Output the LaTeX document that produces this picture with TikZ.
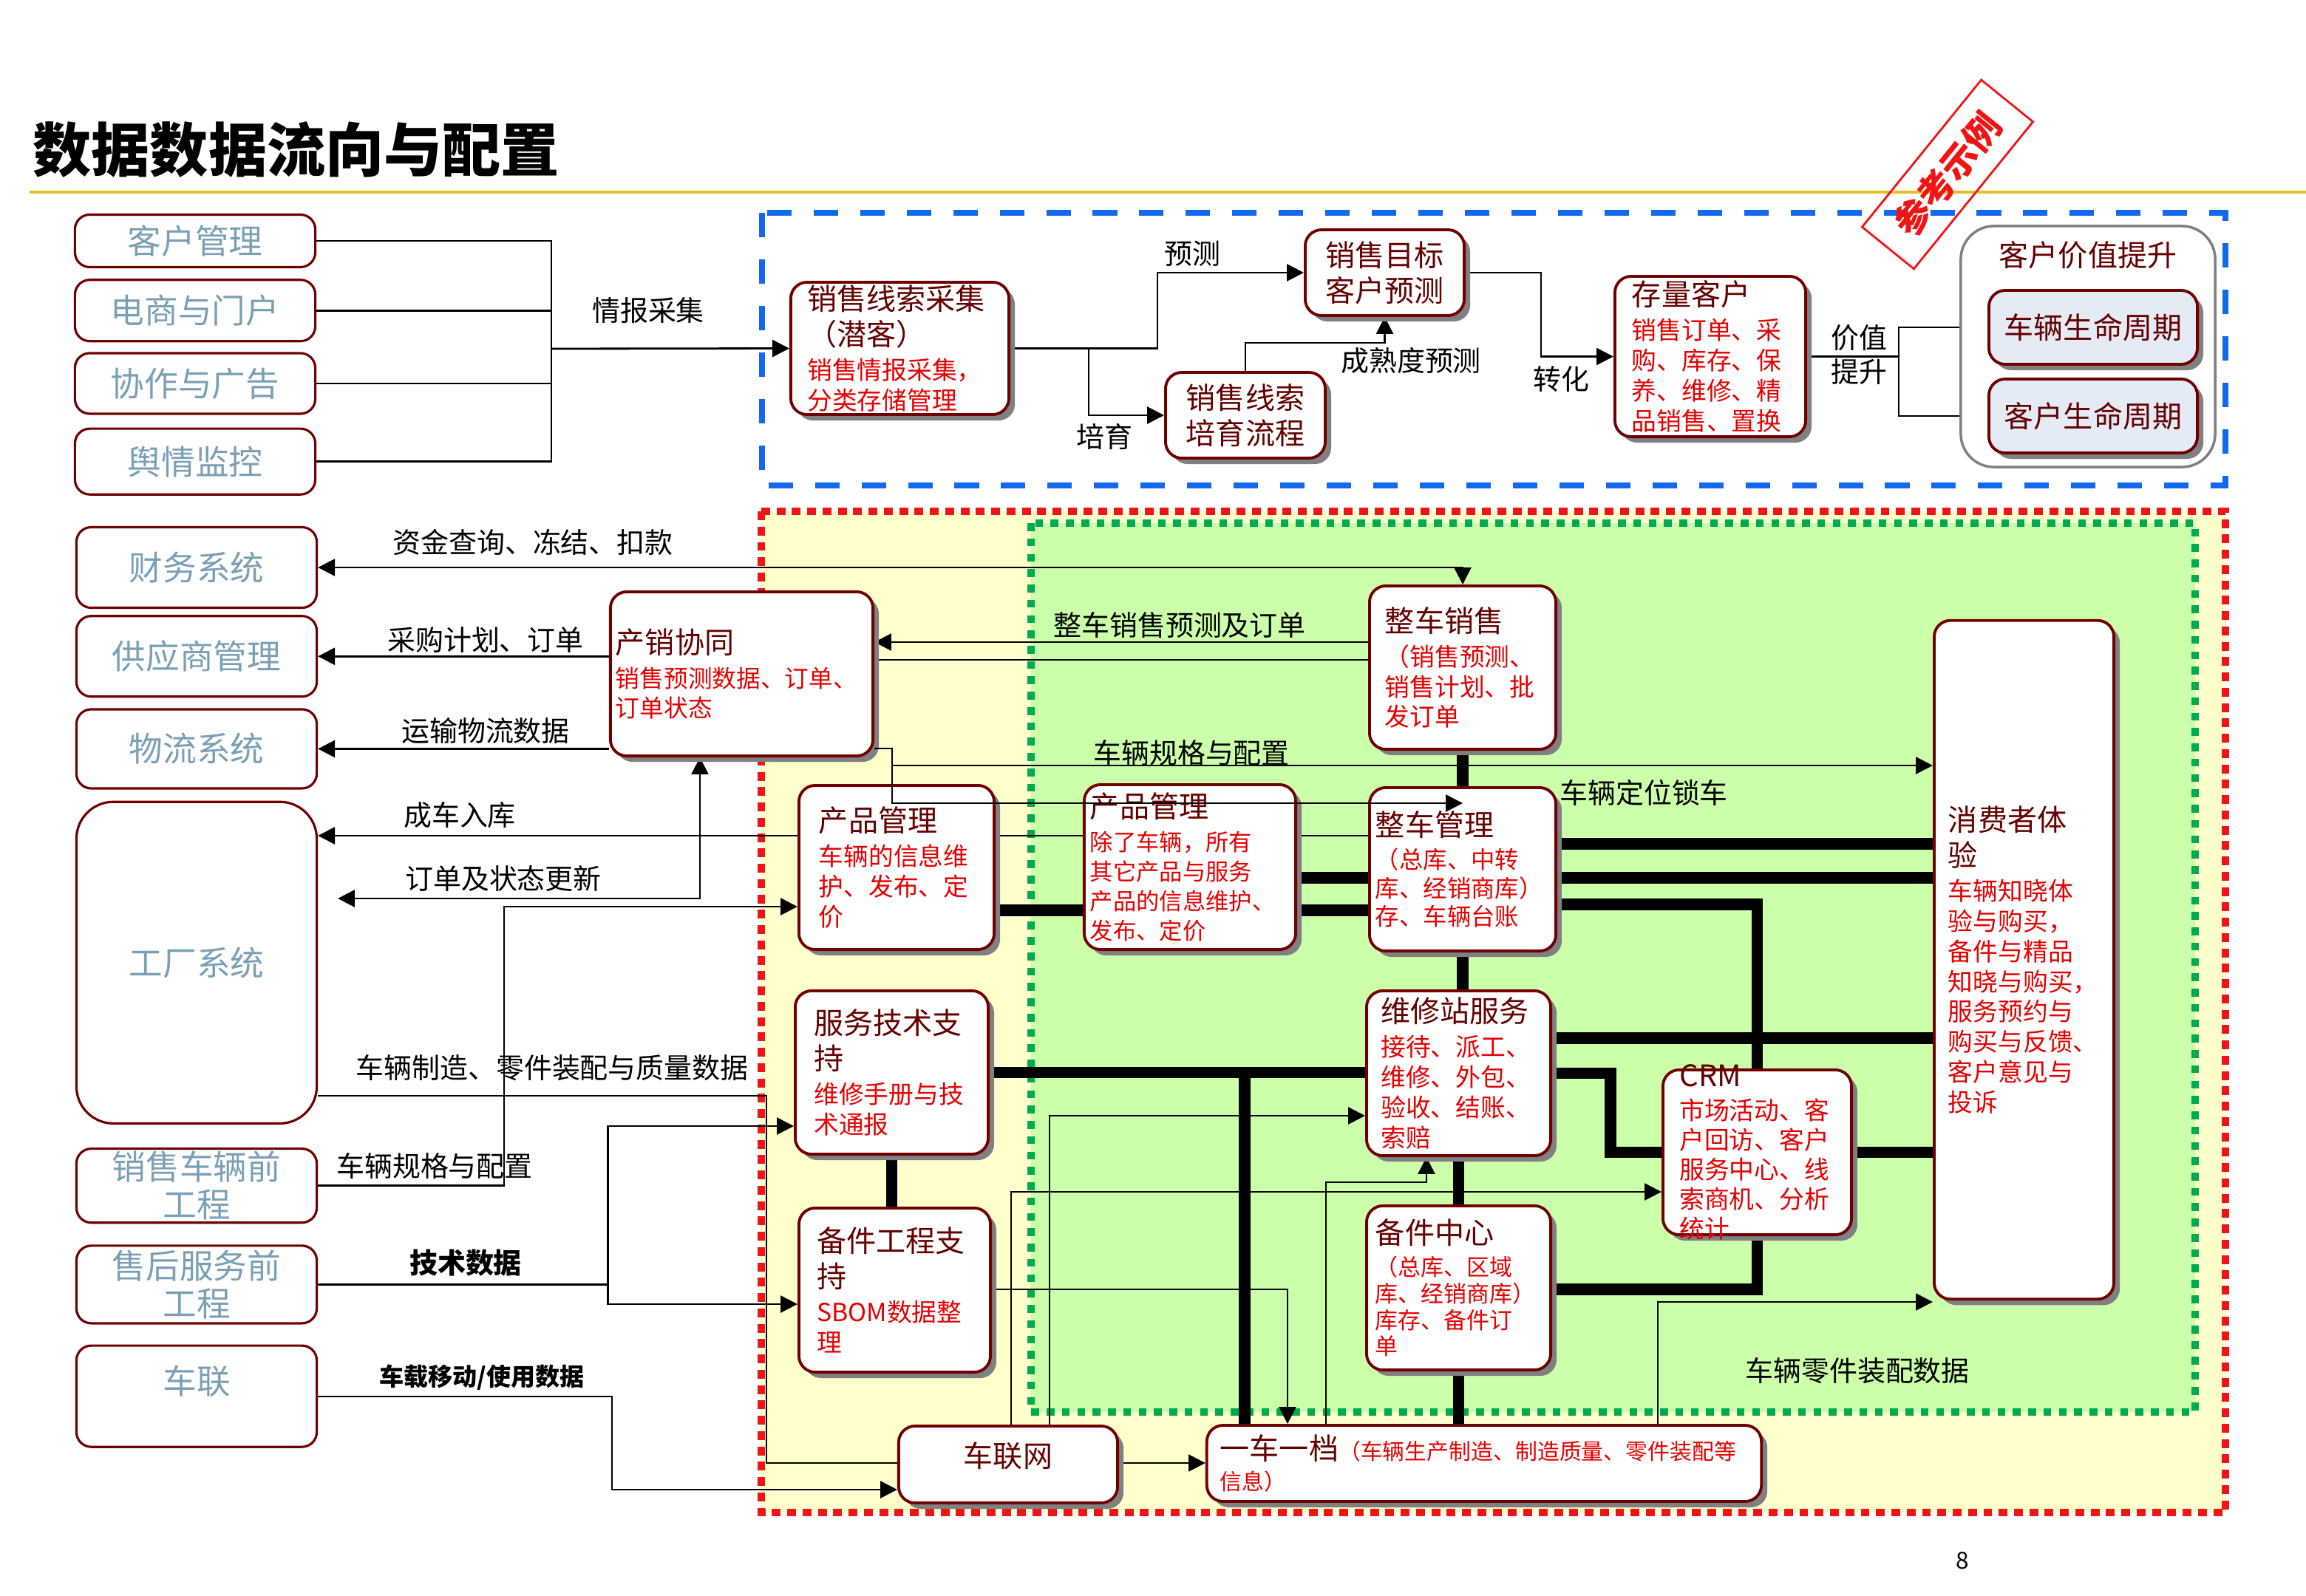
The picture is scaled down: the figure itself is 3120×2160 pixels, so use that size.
\documentclass[tikz,border=0pt]{standalone}
\usepackage{fontspec}
\setmainfont{Noto Sans CJK SC}
\usetikzlibrary{arrows.meta, positioning, shadows}
\definecolor{dr}{RGB}{112,0,0}
\definecolor{tr}{RGB}{100,0,0}
\definecolor{br}{RGB}{228,0,0}
\definecolor{sg}{RGB}{122,160,182}
\definecolor{yl}{RGB}{255,255,204}
\definecolor{lg}{RGB}{204,255,170}
\definecolor{bl}{RGB}{18,104,240}
\definecolor{rd}{RGB}{240,20,20}
\definecolor{gn}{RGB}{0,170,80}
\definecolor{gd}{RGB}{228,190,40}
\definecolor{lb}{RGB}{228,235,245}
\pgfdeclarelayer{bg}\pgfdeclarelayer{ln}\pgfsetlayers{bg,ln,main}
\newcommand\zt[1]{{\color{tr}\fontsize{11.4}{13.6}\selectfont #1}}

\begin{document}
\begin{tikzpicture}[x=0.01cm, y=-0.01cm, >={Triangle[length=6.5pt,width=6.5pt]},
  s/.style={draw=dr,line width=0.9pt,rounded corners=0.2cm,minimum width=3.25cm,inner sep=0pt,text=sg,font=\fontsize{13}{14.5}\selectfont,align=center},
  b/.style={draw=dr,line width=1.1pt,rounded corners=0.22cm,fill=white,drop shadow={shadow xshift=0.08cm,shadow yshift=-0.08cm,fill=black!50,opacity=1},inner sep=0pt,align=left,text=br,font=\fontsize{9.6}{11.6}\selectfont},
  c/.style={b,align=center,text=tr,font=\fontsize{11.4}{13.6}\selectfont},
  t/.style={inner sep=0pt,align=center,font=\fontsize{10.8}{13}\selectfont},
  a/.style={draw,line width=0.8pt,->},
  n/.style={draw,line width=0.8pt},
  k/.style={draw,line width=4.4pt}]
\useasboundingbox (0,0) rectangle (3120,2160);
\node[anchor=west,inner sep=0pt,font=\bfseries\fontsize{22.5}{26}\selectfont] (tt) at (44,203) {数据数据流向与配置};
\draw[gd,line width=1.2pt] (40,260) -- (3120,260);

% left systems
\node[s,minimum height=0.71cm] (kh) at (264,326) {客户管理};
\node[s,minimum height=0.83cm,below=0.14cm of kh] (ds) {电商与门户};
\node[s,minimum height=0.82cm,below=0.13cm of ds] (xz) {协作与广告};
\node[s,minimum height=0.89cm,below=0.17cm of xz] (yq) {舆情监控};
\node[s,minimum height=1.09cm] (cw) at (266,768) {财务系统};
\node[s,minimum height=1.09cm,below=0.08cm of cw] (gy) {供应商管理};
\node[s,minimum height=1.07cm,below=0.14cm of gy] (wl) {物流系统};
\node[s,minimum height=4.35cm,below=0.15cm of wl,rounded corners=0.5cm] (gc) {工厂系统};
\node[s,minimum height=1.0cm,below=0.31cm of gc] (xq) {销售车辆前\\工程};
\node[s,minimum height=1.05cm,below=0.28cm of xq] (sq) {售后服务前\\工程};
\node[s,minimum height=1.37cm,below=0.27cm of sq,text depth=0.45cm] (cl) {车联};

% sales leads
\node[b,minimum width=2.95cm,minimum height=1.79cm,text width=2.5cm] (xs) at (1217.5,471.5) {\zt{销售线索采集}\\[2pt]\zt{（潜客）}\\[1.5pt]销售情报采集，\\分类存储管理};
\node[c,minimum width=2.15cm,minimum height=1.16cm] (mb) at (1873.5,369) {销售目标\\客户预测};
\node[c,minimum width=2.16cm,minimum height=1.16cm] (py) at (1685,562) {销售线索\\培育流程};
\node[b,minimum width=2.58cm,minimum height=2.17cm,text width=2.12cm] (ck) at (2314,482.5) {\zt{存量客户}\\[1.5pt]销售订单、采\\购、库存、保\\养、维修、精\\品销售、置换};
\node[draw=gray,line width=1pt,rounded corners=0.45cm,fill=white,minimum width=3.44cm,minimum height=3.26cm] (kj) at (2825,469) {};
\node[inner sep=0pt,text=tr,font=\fontsize{11.4}{13.6}\selectfont,below=0.22cm of kj.north] (kjt) {客户价值提升};
\node[c,fill=lb,minimum width=2.82cm,minimum height=1cm] (zq) at (2832,443) {车辆生命周期};
\node[c,fill=lb,minimum width=2.82cm,minimum height=1cm] (kq) at (2832,563) {客户生命周期};

% production, sales and service
\node[b,minimum width=3.55cm,minimum height=2.22cm,text width=3.41cm,font=\fontsize{9.3}{11.4}\selectfont] (cx) at (1003.5,912) {\zt{产销协同}\\[1.5pt]销售预测数据、订单、\\订单状态};
\node[b,minimum width=2.52cm,minimum height=2.21cm,text width=2.1cm] (zx) at (1979,903.5) {\zt{整车销售}\\[1.5pt]（销售预测、\\销售计划、批\\发订单};
\node[b,minimum width=2.64cm,minimum height=2.22cm,text width=2.1cm] (cp) at (1213,1174) {\zt{产品管理}\\[1.5pt]车辆的信息维\\护、发布、定\\价};
\node[b,minimum width=2.86cm,minimum height=2.23cm,text width=2.7cm,font=\fontsize{8.9}{11.4}\selectfont] (cq) at (1610,1173.5) {\zt{产品管理}\\[1.5pt]除了车辆，所有\\其它产品与服务\\产品的信息维护、\\发布、定价};
\node[b,minimum width=2.52cm,minimum height=2.21cm,text width=2.36cm,font=\fontsize{9.2}{11}\selectfont] (zg) at (1979,1176.5) {\zt{整车管理}\\[1.5pt]（总库、中转\\库、经销商库）\\存、车辆台账};
\node[b,minimum width=2.61cm,minimum height=2.21cm,text width=2.1cm] (fw) at (1206.5,1451.5) {\zt{服务技术支}\\[2pt]\zt{持}\\[1.5pt]维修手册与技\\术通报};
\node[b,minimum width=2.59cm,minimum height=2.22cm,text width=2.1cm] (bj) at (1210.5,1746) {\zt{备件工程支}\\[2pt]\zt{持}\\[1.5pt]SBOM数据整\\理};
\node[b,minimum width=2.49cm,minimum height=2.23cm,text width=2.1cm] (wx) at (1973.5,1452.5) {\zt{维修站服务}\\[1.5pt]接待、派工、\\维修、外包、\\验收、结账、\\索赔};
\node[b,minimum width=2.49cm,minimum height=2.22cm,text width=2.25cm,font=\fontsize{8.8}{10.2}\selectfont] (bz) at (1973.5,1743) {\zt{备件中心}\\[2pt]（总库、区域\\库、经销商库）\\库存、备件订\\单};
\node[b,minimum width=2.55cm,minimum height=2.23cm] (crm) at (2377.5,1559.5) {};
\node[inner sep=0pt,align=left,text width=2.1cm,text=br,font=\fontsize{9.6}{11.4}\selectfont] (crmt) at (crm.center) {\zt{CRM}\\[1.5pt]市场活动、客\\户回访、客户\\服务中心、线\\索商机、分析\\统计};
\node[b,minimum width=2.43cm,minimum height=9.18cm,text width=2.05cm] (xf) at (2738.5,1299) {\zt{消费者体}\\[2pt]\zt{验}\\[1.5pt]车辆知晓体\\验与购买，\\备件与精品\\知晓与购买，\\服务预约与\\购买与反馈、\\客户意见与\\投诉};
\node[c,minimum width=2.96cm,minimum height=1.04cm,text depth=0.27cm] (lw) at (1364,1982) {车联网};
\node[b,minimum width=7.5cm,minimum height=1.03cm,text width=7.14cm,font=\fontsize{8.5}{11.5}\selectfont] (yd) at (2008,1980.5) {\zt{一车一档}（车辆生产制造、制造质量、零件装配等\\信息）};

% labels
\foreach \n/\x/\y/\tx in {t1/877/420/情报采集, t2/1613/343/预测, t3/1494/591/培育, t4/1909/488/成熟度预测, t5/2112/513/转化,
  t7/721/734/资金查询、冻结、扣款, t8/657/866/采购计划、订单, t9/657/989/运输物流数据, t10/622/1103/成车入库,
  t11/681/1189/订单及状态更新, t12/747/1445/车辆制造、零件装配与质量数据, t13/588/1578/车辆规格与配置,
  t14/1596/846/整车销售预测及订单, t15/1612/1019/车辆规格与配置, t16/2224/1073/车辆定位锁车, t17/2513/1855/车辆零件装配数据}
  {\node[t] (\n) at (\x,\y) {\tx};}
\node[t] (t6) at (2515,480) {价值\\提升};
\node[t,font=\bfseries\fontsize{10.8}{13}\selectfont] (t18) at (630,1709) {技术数据};
\node[t,font=\bfseries\fontsize{9.4}{11}\selectfont] (t19) at (652,1864) {车载移动/使用数据};

% connectors above the boxes
\draw[a] (cx.east |- 0,1013) -| (1207,1087) -- (zg.north |- 0,1087);
\coordinate (jg) at (1207,1036);
\draw[a] (jg) -- (xf.west |- jg);

\node[draw=rd,text=rd,line width=0.8pt,rotate=51,minimum width=2.56cm,minimum height=0.9cm,inner sep=0pt,font=\bfseries\fontsize{14}{16}\selectfont] (yz) at (2635,236) {参考示例};
\node[font=\fontsize{9}{10}\selectfont] (pg) at (2655,2112) {8};

\begin{pgfonlayer}{ln}
\coordinate (qb) at (746,472);
\foreach \n in {kh,ds,xz,yq}{\draw[n] (\n.east) -| (qb);}
\draw[a] (qb) -- (xs.west);
\draw[a] (xs.east) -- ++(199,0) |- (mb.west);
\draw[a] (xs.east) ++(106,0) |- (py.west);
\draw[a] (py.north) -- ++(0,-38) -| (mb.south);
\draw[a] (mb.east) -- ++(102,0) |- (ck.west);
\draw[n] (ck.east) -- ++(124,0) coordinate (jz);
\foreach \n in {zq,kq}{\draw[a] (jz) |- (\n.west);}
% left systems
\draw[<->,line width=0.8pt] (cw.east) -| (zx.north);
\draw[a] (gy.east -| cx.west) -- (gy.east);
\draw[a] (wl.east -| cx.west) -- (wl.east);
\draw[a] (zg.west |- 0,1131) -- (gc.east |- 0,1131);
\coordinate (g1) at (457,1216);
\draw[<->,line width=0.8pt] (g1) -| (cx.south -| 947,0);
\draw[a] (xq.east) -| (682,1227) -- (cp.west |- 0,1227);
\draw[n] (gc.east |- 0,1483) -| (1037,1980) -- (lw.west |- 0,1980);
\draw[n] (sq.east) -- ++(392,0) coordinate (jt);
\draw[a] (jt) |- (fw.west |- 0,1524);
\draw[a] (jt) |- (bj.west |- 0,1765);
\draw[a] (cl.east |- 0,1890) -| (828,2016) -- (lw.west |- 0,2016);
\draw[a] (zx.west |- 0,869) -- (cx.east |- 0,869);
\draw[n] (cx.east |- 0,893) -- (zx.west |- 0,893);
% thick links
\draw[k] (zx.south) -- (zg.north);
\draw[k] (zg.east |- 0,1142) -- (xf.west |- 0,1142);
\draw[k] (cq.east |- 0,1188) -- (xf.west |- 0,1188);
\draw[k] (cp.east |- 0,1232) -- (zg.west |- 0,1232);
\draw[k] (zg.east |- 0,1224) -| (crm.north);
\draw[k] (bz.east |- 0,1745) -| (crm.south);
\draw[k] (zg.south) -- (zg.south |- wx.north);
\draw[k] (wx.east |- 0,1405) -- (xf.west |- 0,1405);
\draw[k] (wx.east) -- ++(79,0) |- (crm.west);
\draw[k] (crm.east) -- (xf.west |- crm.east);
\draw[k] (wx.south) -- (bz.north);
\draw[k] (bz.south) -- (bz.south |- yd.north);
\draw[k] (fw.east) -- (wx.west |- fw.east);
\draw[k] (yd.north -| 1684,0) -- ++(0,-480);
\draw[k] (fw.south) -- (fw.south |- bj.north);
% thin links
\draw[a] (lw.north -| 1368,0) |- (crm.west |- 0,1613);
\draw[a] (lw.north -| 1420,0) |- (wx.west |- 0,1510);
\draw[a] (bj.east |- 0,1745) -| (yd.north -| 1742,0);
\draw[a] (yd.north -| 1794,0) |- (1930,1600) -- (wx.south -| 1930,0);
\draw[a] (yd.north -| 2243,0) |- (xf.west |- 0,1762);
\draw[a] (lw.east |- 0,1980) -- (yd.west |- 0,1980);
\end{pgfonlayer}

\begin{pgfonlayer}{bg}
\draw[rd,fill=yl,line width=2.8pt,dash pattern=on 3.4pt off 2.5pt] (1030,692) rectangle (3011,2047);
\draw[gn,fill=lg,line width=2.8pt,dash pattern=on 3pt off 2.9pt] (1395,708) rectangle (2970,1911);
\draw[bl,line width=2.5pt,dash pattern=on 9.4pt off 8.5pt] (1031,288) rectangle (3011,657);
\end{pgfonlayer}
\end{tikzpicture}
\end{document}
